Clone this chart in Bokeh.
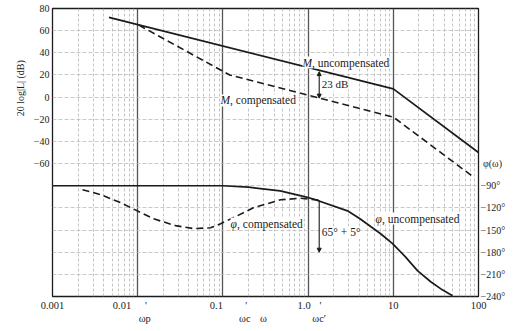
from bokeh.plotting import figure
from bokeh.models import Range1d, LinearAxis, FixedTicker, Label, Arrow, NormalHead, AllLabels
from bokeh.embed import file_html
from bokeh.resources import INLINE

# ---------------- data ----------------
mag_unc_w = [0.0046, 10, 100]
mag_unc_db = [72, 7.5, -50]

mag_comp_w = [0.0103, 0.12, 10, 85]
mag_comp_db = [65, 20, -18, -71.5]

ph_unc_w = [0.001, 0.1, 0.2, 0.47, 0.93, 1.15, 2.9, 4.1, 7.1, 9.8, 13.8, 19.2, 27.5, 37.6, 49.6]
ph_unc_deg = [-90, -90, -92, -97, -105, -108, -124, -135, -155, -168.5, -186, -205, -220, -231, -239]

ph_comp_w = [0.00225, 0.00366, 0.0063, 0.0153, 0.0277, 0.0451, 0.0716, 0.094, 0.148, 0.228, 0.476, 0.81, 1.35]
ph_comp_deg = [-95.4, -102, -113, -134.7, -144, -148, -147, -141.5, -130.6, -119.8, -109, -107, -109.5]

NB = "\u00a0"
x_ticks = [0.001, 0.01, 0.1, 1, 10, 100]
x_tick_labels = ["0.001", "0.01" + NB * 12, "0.1" + NB * 5, "1.0" + NB * 3, "10", "100"]
db_ticks = [80, 60, 40, 20, 0, -20, -40, -60]
db_grid = [80, 60, 40, 20, 0, -20, -40, -60, -80, -100, -120, -140, -160, -180]
deg_ticks = [-90, -120, -150, -180, -210, -240]
phi_label_deg = -60
w_marks = [0.0121, 0.181, 1.35]
w_mark_labels = [NB + "'\n\u03c9p", NB + "'\n\u03c9c", NB + "'\n\u03c9c\u2032"]
w_axis_pos = 0.30

margin_db = [23.0, -0.9]        # 23 dB arrow ends at omega_c'
margin_deg = [-109.5, -180]     # 65 + 5 degree arrow ends

FONT = "Liberation Serif"
INK = "#1b1b1b"

W, H = 512, 328
p = figure(width=W, height=H, x_axis_type="log",
           x_range=Range1d(0.001, 100), y_range=Range1d(-180, 80),
           output_backend="svg", toolbar_location=None,
           min_border_left=52, min_border_right=W - 478, min_border_top=8, min_border_bottom=H - 296)
p.extra_y_ranges = {"phase": Range1d(-240, 150)}

p.outline_line_color = INK
p.outline_line_width = 1.3
p.background_fill_color = "white"
p.border_fill_color = "white"

minor = []
for d in [0.001, 0.01, 0.1, 1, 10]:
    for k in range(2, 10):
        minor.append(d * k)


def plain(ax, size="10px"):
    ax.axis_line_color = None
    ax.major_tick_out = 0
    ax.major_tick_in = 0
    ax.minor_tick_out = 0
    ax.minor_tick_in = 0
    ax.major_label_text_font = FONT
    ax.major_label_text_font_size = size
    ax.major_label_text_color = INK
    ax.major_label_policy = AllLabels()


# x axis: decade labels plus omega marks (second line)
xa = p.xaxis[0]
xa.ticker = FixedTicker(ticks=x_ticks + w_marks + [w_axis_pos])
xov = {t: l for t, l in zip(x_ticks, x_tick_labels)}
for t, l in zip(w_marks, w_mark_labels):
    xov[t] = l
xov[w_axis_pos] = "\n\u03c9"
xa.major_label_overrides = xov
plain(xa, "10.5px")
xa.major_label_standoff = 3

# left axis (dB)
ya = p.yaxis[0]
ya.ticker = FixedTicker(ticks=db_grid)
ov = {}
for t in db_grid:
    if t in db_ticks:
        ov[t] = ("\u2212" + str(-t)) if t < 0 else str(t)
    else:
        ov[t] = ""
ya.major_label_overrides = ov
plain(ya)
ya.major_label_standoff = 3

# grids (own tickers so extra axis ticks add no grid lines)
p.xgrid.ticker = FixedTicker(ticks=x_ticks, minor_ticks=minor)
p.xgrid.grid_line_color = "#555555"
p.xgrid.grid_line_width = 1.3
p.xgrid.minor_grid_line_color = "#b5b5b5"
p.xgrid.minor_grid_line_width = 0.8
p.xgrid.minor_grid_line_dash = "3 2"
p.ygrid.grid_line_color = "#bbbbbb"
p.ygrid.grid_line_width = 0.8
p.ygrid.grid_line_dash = "4 2"

# left title, centred on the magnitude part
ta = LinearAxis(ticker=FixedTicker(ticks=[8]))
ta.major_label_overrides = {8: "20 log|L| (dB)"}
ta.major_label_orientation = "vertical"
plain(ta)
ta.major_label_standoff = 4
p.add_layout(ta, "left")

# right axis (phase)
ra = LinearAxis(y_range_name="phase", ticker=FixedTicker(ticks=deg_ticks + [phi_label_deg]))
rov = {t: "\u2212" + str(-t) + "\u00b0" for t in deg_ticks}
rov[phi_label_deg] = NB + "\u03c6(\u03c9)"
ra.major_label_overrides = rov
plain(ra)
ra.major_label_standoff = 2
p.add_layout(ra, "right")

# curves
p.line(mag_unc_w, mag_unc_db, line_color=INK, line_width=1.7)
p.line(mag_comp_w, mag_comp_db, line_color=INK, line_width=1.6, line_dash="7 4")
p.line(ph_unc_w, ph_unc_deg, line_color=INK, line_width=1.7, y_range_name="phase")
p.line(ph_comp_w, ph_comp_deg, line_color=INK, line_width=1.6, line_dash="7 4", y_range_name="phase")

# arrows
p.add_layout(Arrow(x_start=w_marks[2], y_start=margin_db[0], x_end=w_marks[2], y_end=margin_db[1],
                   line_color=INK, line_width=1.1,
                   start=NormalHead(size=4, fill_color=INK, line_color=INK),
                   end=NormalHead(size=4, fill_color=INK, line_color=INK)))
p.add_layout(Arrow(x_start=w_marks[2], y_start=margin_deg[0], x_end=w_marks[2], y_end=margin_deg[1],
                   y_range_name="phase", line_color=INK, line_width=1.1,
                   end=NormalHead(size=4, fill_color=INK, line_color=INK)))


def lab(x, y, text, size="11.5px", style="normal", yr="default", bg=None, xo=0):
    kw = {}
    if bg:
        kw["background_fill_color"] = bg
    p.add_layout(Label(x=x, y=y, text=text, y_range_name=yr, text_font=FONT, text_font_size=size,
                       text_font_style=style, text_color=INK, text_align="left",
                       text_baseline="middle", x_offset=xo, **kw))


lab(0.86, 31.2, "M", style="italic", bg="white")
lab(0.86, 31.2, ", uncompensated", bg="white", xo=9.5)
lab(1.45, 11.4, "23 dB", size="11px", bg="white")
lab(0.094, -3.0, "M", style="italic", bg="white")
lab(0.094, -3.0, ", compensated", bg="white", xo=9.5)
lab(0.123, -141.2, "\u03c6", style="italic", yr="phase", bg="white")
lab(0.123, -141.2, ", compensated", yr="phase", bg="white", xo=6.5)
lab(6.2, -134.4, "\u03c6", style="italic", yr="phase", bg="white")
lab(6.2, -134.4, ", uncompensated", yr="phase", bg="white", xo=6.5)
lab(1.45, -153.3, "65\u00b0 + 5\u00b0", yr="phase", bg="white")

html = file_html(p, INLINE)
open("out.html", "w").write(html)
